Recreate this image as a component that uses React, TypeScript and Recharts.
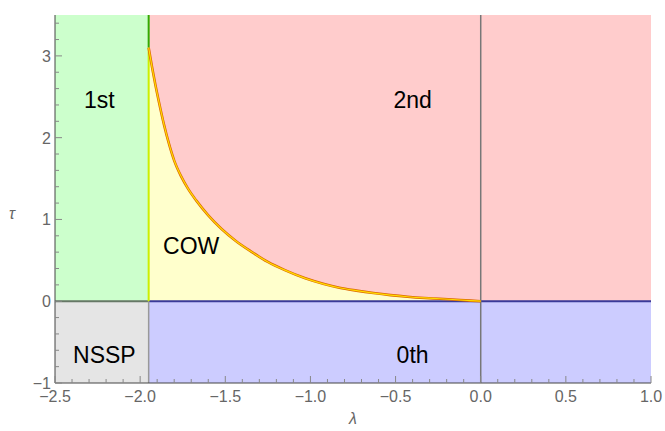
import {
  Area,
  ComposedChart,
  Line,
  ReferenceArea,
  ReferenceDot,
  ReferenceLine,
  XAxis,
  YAxis
} from "recharts";

// boundary curve between COW and 2nd (lambda, tau)
const curveLam = [
  -1.95, -1.93, -1.91, -1.89, -1.86, -1.83, -1.8, -1.76, -1.72, -1.67,
  -1.6, -1.52, -1.44, -1.35, -1.25, -1.15, -1.03, -0.92, -0.83, -0.73,
  -0.63, -0.53, -0.43, -0.33, -0.24, -0.12, 0
];
const curveTau = [
  3.1, 2.86, 2.64, 2.44, 2.16, 1.92, 1.72, 1.53, 1.38, 1.23,
  1.05, 0.88, 0.74, 0.61, 0.48, 0.38, 0.28, 0.21, 0.165, 0.13,
  0.1, 0.075, 0.055, 0.04, 0.03, 0.015, 0
];

const lamMin = -2.5;
const lamMax = 1;
const tauMin = -1;
const tauMax = 3.5;
const lamCrit = -1.95;

const xTicks = [
  -2.5, -2.4, -2.3, -2.2, -2.1, -2, -1.9, -1.8, -1.7, -1.6, -1.5, -1.4,
  -1.3, -1.2, -1.1, -1, -0.9, -0.8, -0.7, -0.6, -0.5, -0.4, -0.3, -0.2,
  -0.1, 0, 0.1, 0.2, 0.3, 0.4, 0.5, 0.6, 0.7, 0.8, 0.9, 1
];
const xMajor = [-2.5, -2, -1.5, -1, -0.5, 0, 0.5, 1];
const yTicks = [
  -1, -0.8, -0.6, -0.4, -0.2, 0, 0.2, 0.4, 0.6, 0.8, 1, 1.2, 1.4, 1.6,
  1.8, 2, 2.2, 2.4, 2.6, 2.8, 3, 3.2, 3.4
];
const yMajor = [-1, 0, 1, 2, 3];

const regionLabels = [
  { text: "1st", lam: -2.24, tau: 2.46 },
  { text: "2nd", lam: -0.4, tau: 2.46 },
  { text: "COW", lam: -1.7, tau: 0.68 },
  { text: "NSSP", lam: -2.21, tau: -0.66 },
  { text: "0th", lam: -0.4, tau: -0.66 }
];

const font = "'Liberation Sans', Arial, sans-serif";
const tickColor = "#666666";
const frameColor = "#444444";

const isMajor = (list: number[], v: number) =>
  list.some((m) => Math.abs(m - v) < 1e-6);

const fmt = (v: number, digits: number) =>
  v.toFixed(digits).replace("-", "\u2212");

function BottomTick({ x, y, payload }: any) {
  const major = isMajor(xMajor, payload.value);
  return (
    <g>
      <line x1={x} x2={x} y1={y} y2={y - (major ? 7 : 4)} stroke="#888" />
      {major && (
        <text
          x={x}
          y={y + 19}
          textAnchor="middle"
          fill={tickColor}
          fontSize={16}
          fontFamily={font}
        >
          {fmt(payload.value, 1)}
        </text>
      )}
    </g>
  );
}

function TopTick({ x, y, payload }: any) {
  const major = isMajor(xMajor, payload.value);
  return <line x1={x} x2={x} y1={y} y2={y + (major ? 7 : 4)} stroke="#888" />;
}

function LeftTick({ x, y, payload }: any) {
  const major = isMajor(yMajor, payload.value);
  return (
    <g>
      <line x1={x} x2={x + (major ? 7 : 4)} y1={y} y2={y} stroke="#888" />
      {major && (
        <text
          x={x - 4}
          y={y + 6}
          textAnchor="end"
          fill={tickColor}
          fontSize={16}
          fontFamily={font}
        >
          {fmt(payload.value, 0)}
        </text>
      )}
    </g>
  );
}

function RightTick({ x, y, payload }: any) {
  const major = isMajor(yMajor, payload.value);
  return <line x1={x} x2={x - (major ? 7 : 4)} y1={y} y2={y} stroke="#888" />;
}

export default function App() {
  // last row closes the 2nd region out to the right edge
  const rows = curveLam
    .map((lam, i) => ({ lam, tau: curveTau[i] as number | null, low: curveTau[i] }))
    .concat([{ lam: lamMax, tau: null, low: 0 }]);

  return (
    <div style={{ position: "absolute", left: 0, top: 0 }}>
      <ComposedChart
        width={665}
        height={431}
        data={rows}
        margin={{ top: 15, right: 14, bottom: 0, left: 0 }}
      >
        <XAxis
          dataKey="lam"
          type="number"
          domain={[lamMin, lamMax]}
          allowDataOverflow
          ticks={xTicks}
          interval={0}
          tickSize={0}
          tickMargin={0}
          tickLine={false}
          tick={BottomTick}
          axisLine={{ stroke: frameColor }}
          height={48}
          label={{
            value: "λ",
            position: "insideBottom",
            offset: 7,
            fill: tickColor,
            fontSize: 16,
            fontStyle: "italic",
            fontFamily: font
          }}
        />
        <XAxis
          xAxisId="top"
          orientation="top"
          dataKey="lam"
          type="number"
          domain={[lamMin, lamMax]}
          allowDataOverflow
          ticks={xTicks}
          interval={0}
          tickSize={0}
          tickMargin={0}
          tickLine={false}
          tick={TopTick}
          axisLine={{ stroke: "#222" }}
          height={0}
        />
        <YAxis
          type="number"
          domain={[tauMin, tauMax]}
          allowDataOverflow
          ticks={yTicks}
          interval={0}
          tickSize={0}
          tickMargin={0}
          tickLine={false}
          tick={LeftTick}
          axisLine={{ stroke: frameColor }}
          width={55}
          label={{
            value: "τ",
            position: "insideLeft",
            offset: 9,
            dy: 14,
            fill: tickColor,
            fontSize: 16,
            fontStyle: "italic",
            fontFamily: font
          }}
        />
        <YAxis
          yAxisId="right"
          orientation="right"
          type="number"
          domain={[tauMin, tauMax]}
          allowDataOverflow
          ticks={yTicks}
          interval={0}
          tickSize={0}
          tickMargin={0}
          tickLine={false}
          tick={RightTick}
          axisLine={{ stroke: frameColor }}
          width={0}
        />

        <ReferenceArea x1={lamMin} x2={lamCrit} y1={0} y2={tauMax} fill="#ccffcc" fillOpacity={1} stroke="none" />
        <ReferenceArea x1={lamMin} x2={lamCrit} y1={tauMin} y2={0} fill="#e5e5e5" fillOpacity={1} stroke="none" />
        <ReferenceArea x1={lamCrit} x2={lamMax} y1={tauMin} y2={0} fill="#ccccff" fillOpacity={1} stroke="none" />

        <Area
          type="monotone"
          dataKey={(d: any) => [d.low, tauMax]}
          fill="#ffcccc"
          fillOpacity={1}
          stroke="none"
          dot={false}
          activeDot={false}
          isAnimationActive={false}
        />
        <Area
          type="monotone"
          dataKey="tau"
          baseValue={0}
          fill="#ffffcc"
          fillOpacity={1}
          stroke="none"
          dot={false}
          activeDot={false}
          isAnimationActive={false}
        />

        <ReferenceLine
          segment={[{ x: lamMin, y: 0 }, { x: lamCrit, y: 0 }]}
          stroke="#667766"
          strokeWidth={2}
        />
        <ReferenceLine
          segment={[{ x: lamCrit, y: 0 }, { x: lamMax, y: 0 }]}
          stroke="#3a3a99"
          strokeWidth={2}
        />
        <ReferenceLine
          segment={[{ x: lamCrit, y: tauMin }, { x: lamCrit, y: 0 }]}
          stroke="#999999"
          strokeWidth={1.5}
        />
        <ReferenceLine
          segment={[{ x: lamCrit, y: 0 }, { x: lamCrit, y: curveTau[0] }]}
          stroke="#ccee00"
          strokeWidth={2}
        />
        <ReferenceLine
          segment={[{ x: lamCrit, y: curveTau[0] }, { x: lamCrit, y: tauMax }]}
          stroke="#33aa00"
          strokeWidth={2}
        />
        <ReferenceLine x={0} stroke="#777777" strokeWidth={1.5} />

        <Line
          type="monotone"
          dataKey="tau"
          stroke="#dd6600"
          strokeWidth={2.6}
          dot={false}
          activeDot={false}
          isAnimationActive={false}
        />
        <Line
          type="monotone"
          dataKey="tau"
          stroke="#ffdd00"
          strokeWidth={1.2}
          dot={false}
          activeDot={false}
          isAnimationActive={false}
        />

        {regionLabels.map((r) => (
          <ReferenceDot
            key={r.text}
            x={r.lam}
            y={r.tau}
            r={0}
            fill="none"
            stroke="none"
            label={{
              value: r.text,
              position: "center",
              fill: "#000",
              fontSize: 23,
              fontFamily: font
            }}
          />
        ))}
      </ComposedChart>
    </div>
  );
}
